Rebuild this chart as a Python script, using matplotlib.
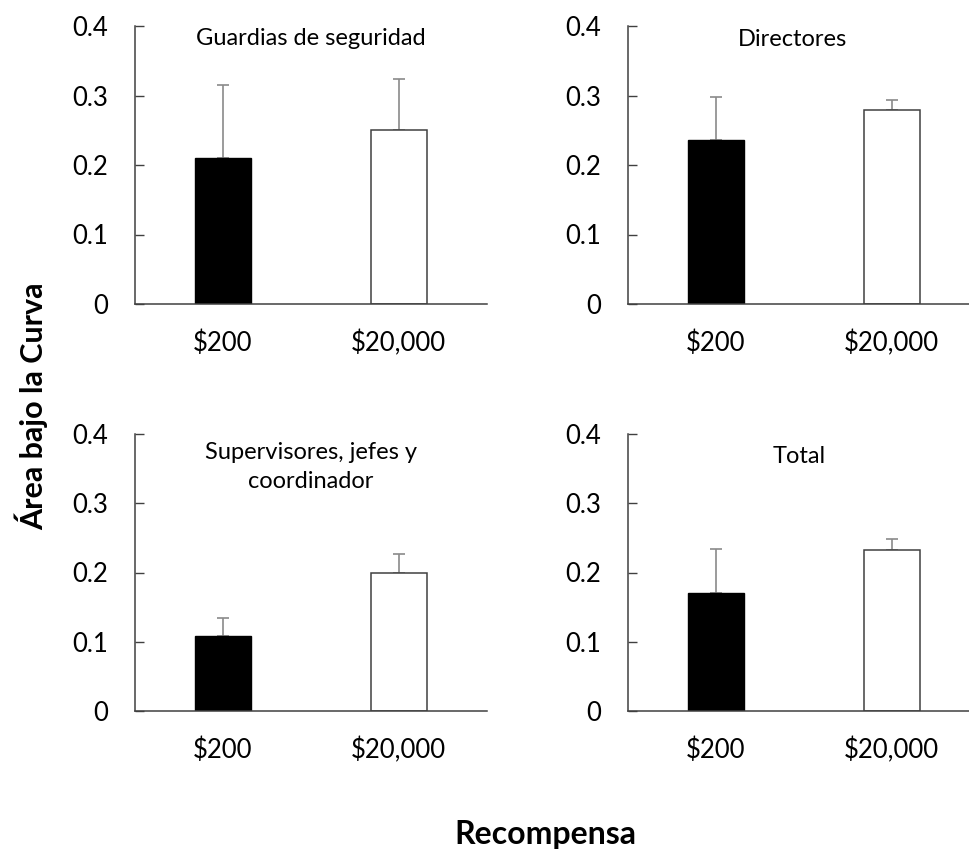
import matplotlib
matplotlib.use("Agg")
import matplotlib.pyplot as plt

plt.rcParams['font.family'] = ['Lato', 'DejaVu Sans']

rewards = ["$200", "$20,000"]
groups = ["Guardias de seguridad", "Directores",
          "Supervisores, jefes y\ncoordinador", "Total"]
mean_200 = [0.210, 0.236, 0.108, 0.171]
mean_20000 = [0.251, 0.279, 0.200, 0.233]
err_200 = [0.105, 0.062, 0.027, 0.063]
err_20000 = [0.073, 0.014, 0.027, 0.015]
yticks = [0, 0.1, 0.2, 0.3, 0.4]
ytick_labels = ["0", "0.1", "0.2", "0.3", "0.4"]

W, H = 969, 850
fig = plt.figure(figsize=(W / 100, H / 100), dpi=100)

# panel boxes in pixels: left, bottom(zero line), width, height
boxes = [(134.7, 304, 352, 278), (627.7, 304, 352, 278),
         (134.7, 711, 352, 277), (627.7, 711, 352, 277)]
title_pos = [(0.5, 0.955), (0.467, 0.95), (0.5, 0.882), (0.487, 0.918)]

for i, (x0, y0, w, h) in enumerate(boxes):
    ax = fig.add_axes([x0 / W, (H - y0) / H, w / W, h / H])
    ax.bar([0], [mean_200[i]], width=0.32, color='black', edgecolor='black', linewidth=1, zorder=2)
    ax.bar([1], [mean_20000[i]], width=0.32, color='white', edgecolor='#404040', linewidth=1.1, zorder=2)
    ax.errorbar([0, 1], [mean_200[i], mean_20000[i]],
                yerr=[[0, 0], [err_200[i], err_20000[i]]],
                fmt='none', ecolor='#8a8a8a', elinewidth=1.2, capsize=4.3, capthick=1.2, zorder=1)
    ax.set_xlim(-0.5, 1.5)
    ax.set_ylim(0, 0.4)
    ax.set_yticks(yticks)
    ax.set_yticklabels(ytick_labels)
    ax.set_xticks([0, 1])
    ax.set_xticklabels(rewards)
    ax.tick_params(axis='y', direction='in', length=6.5, width=1, color='#404040', pad=19, labelsize=18.5)
    ax.tick_params(axis='x', length=0, pad=19, labelsize=18.5)
    for s in ['top', 'right']:
        ax.spines[s].set_visible(False)
    for s in ['left', 'bottom']:
        ax.spines[s].set_color('#404040')
        ax.spines[s].set_linewidth(1.1)
    ax.text(title_pos[i][0], title_pos[i][1], groups[i], transform=ax.transAxes,
            ha='center', va='center', fontsize=17, linespacing=1.45)

fig.text(31.7 / W, (H - 406) / H, "Área bajo la Curva", rotation=90,
         ha='center', va='center', fontsize=22, fontweight='bold')
fig.text(545 / W, (H - 844) / H, "Recompensa", ha='center', va='baseline',
         fontsize=23, fontweight='bold')

plt.savefig("out.png", dpi=100)
